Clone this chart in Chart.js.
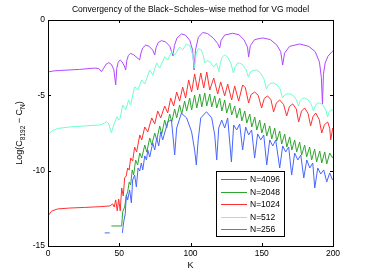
<!DOCTYPE html>
<html>
<head>
<meta charset="utf-8">
<script src="https://cdn.jsdelivr.net/npm/chart.js@4.4.0/dist/chart.umd.min.js"></script>
<style>
  html, body { margin:0; padding:0; background:#fff; }
</style>
</head>
<body>
<canvas id="chart" width="368" height="277"></canvas>
<script>
// --- donnees ---
const xTicks = [0, 50, 100, 150, 200];
const yTicks = [0, -5, -10, -15];
const legendLabels = ["N=4096", "N=2048", "N=1024", "N=512", "N=256"];

// N=256
const k256 = [0,4,8.2,22.2,32.8,35.6,37.5,39.1,40.8,42.6,44.5,46.2,47.5,48.3,49.3,50.6,52,53.6,54.5,55.3,56.4,58,60,62.5,64.3,65.2,66.5,68.6,71,73.5,74.9,75.8,77.3,79.6,82.5,85.5,87.7,88.7,90.5,93.6,96.5,99.5,101.5,102.5,103.5,105.5,108.6,112,116,119,120.5,121.5,124,129.6,134,137.5,140,140.8,142,145,150.7,156,160.5,163.3,164.7,166,169.5,176.6,183,187.5,190.5,191.8,192.6,193.3,194.5,196.5,199.1,200];
const v256 = [-3.45,-3.38,-3.35,-3.28,-3.19,-3.22,-3.43,-3.2,-2.93,-2.83,-2.95,-3.3,-4.31,-3.2,-2.8,-2.65,-2.78,-3.05,-3.32,-2.7,-2.35,-2.22,-2.3,-2.5,-2.65,-2.2,-1.85,-1.66,-1.75,-2.0,-2.32,-1.85,-1.5,-1.37,-1.45,-1.75,-2.39,-1.7,-1.2,-0.93,-1.0,-1.35,-2.0,-3.32,-2.0,-1.15,-0.83,-0.9,-1.2,-1.55,-1.86,-1.35,-1.0,-0.88,-0.98,-1.3,-1.8,-2.46,-1.7,-1.3,-1.19,-1.3,-1.65,-2.1,-2.99,-2.2,-1.75,-1.59,-1.75,-2.1,-2.8,-3.8,-5.57,-3.6,-2.85,-2.4,-2.12,-2.05];

// N=512
const k512 = [0,2.6,6.8,15.2,25.8,36.3,39.8,41.2,42.6,44.5,46.1,48.4,49.6,50.7,52.4,54.5,56.6,58.0,60.8,63.0,65.8,67.9,71.4,73.5,76.3,78.4,81.9,84.0,86.8,88.9,92.4,94.5,97,99.4,101.5,102.9,104,105.5,107.2,108.8,110.0,111.5,113.5,116.3,118.2,120.0,121,122.4,124.0,126,128.3,130.1,131.3,132.7,134.5,136.8,139,140.6,142,144,146.3,149,151.5,153.3,154.8,156.4,158.4,160.8,163,164.5,166,167.8,169.6,172,174.3,175.7,177,178.5,180.1,182.5,184.8,186.3,187.5,189,190.7,193,195,196.2,197.3,198.5,200];
const v512 = [-7.63,-7.37,-7.2,-7.1,-7.03,-6.97,-6.84,-6.75,-6.9,-7.48,-6.97,-6.42,-6.64,-6.5,-5.64,-5.97,-5.31,-5.64,-4.43,-4.65,-3.98,-4.25,-3.32,-3.65,-2.85,-3.19,-2.44,-2.65,-2.1,-2.32,-1.79,-1.99,-1.6,-1.7,-2.3,-3.19,-2.2,-1.9,-1.95,-2.3,-2.85,-2.7,-2.76,-3.12,-2.87,-3.43,-2.8,-2.45,-2.32,-2.45,-2.85,-3.52,-3.1,-2.9,-2.85,-3.0,-3.3,-3.78,-3.45,-3.35,-3.32,-3.5,-3.9,-4.58,-4.3,-4.2,-4.18,-4.3,-4.6,-5.18,-4.98,-4.9,-4.91,-5.0,-5.3,-5.71,-5.35,-5.2,-5.18,-5.3,-5.6,-6.04,-5.7,-5.52,-5.51,-5.65,-6.0,-6.44,-6.1,-5.97,-5.97];

// N=1024
const k1024 = [0,2.6,6.8,15.2,25.8,36.3,43.3,45.4,46.5,47.5,48.6,49.6,50.7,51.7,52.8,53.8,54.9,55.9,57.0,58.0,59.4,60.8,62.2,64.4,65.8,67.9,70.0,72.8,74.9,77.0,79.1,81.9,84.0,86.1,88.2,90.3,92.4,94.5,96.6,98.7,100.8,102.9,105.0,107.2,109.3,111.4,113.5,116.3,119.1,121.2,124.0,126.1,128.9,131.0,133.8,136.6,138.5,140.8,142.5,145.0,147.5,149.9,151.8,154.1,156.5,158.3,160.3,162.6,165.3,167.5,169.4,171.7,174.2,175.9,177.9,180.1,182.5,184.3,186,187.9,190.3,192.1,194,196.3,197.7,198.4,199.8];
const v1024 = [-13.0,-12.68,-12.54,-12.48,-12.44,-12.39,-12.34,-12.21,-12.41,-11.94,-12.67,-11.88,-12.67,-11.15,-11.68,-10.48,-10.35,-9.82,-9.96,-9.16,-9.36,-8.43,-8.76,-7.63,-7.96,-7.1,-7.43,-6.5,-6.9,-6.04,-6.5,-5.71,-6.17,-5.18,-5.71,-4.78,-5.38,-4.45,-5.18,-3.98,-4.78,-3.58,-4.65,-3.52,-4.51,-3.45,-4.65,-3.85,-4.91,-4.11,-5.04,-4.25,-5.31,-4.38,-5.38,-4.31,-4.5,-5.51,-4.95,-4.78,-5.0,-5.84,-5.2,-5.04,-5.3,-6.1,-5.5,-5.31,-5.6,-6.37,-5.75,-5.57,-5.9,-6.77,-6.05,-5.84,-6.2,-7.03,-6.4,-6.17,-6.6,-7.5,-6.95,-6.77,-7.2,-7.96,-7.17];

// N=2048
const k2048 = [44.5,51.7,52.4,53.8,54.9,55.9,57.0,58.0,59.1,60.1,61.5,62.9,64.4,65.8,67.9,69.3,71.4,72.8,74.9,76.3,78.4,79.8,81.9,83.3,85.4,86.8,88.9,90.3,92.4,93.8,95.9,97.3,99.4,100.8,102.9,104.4,106.5,107.9,110.0,111.4,113.5,114.9,117.0,118.4,120.5,122.0,124.0,125.4,127.6,128.9,131.0,132.5,134.6,136.0,138.1,139.5,141.6,143.0,145.1,146.5,148.6,150.0,152.1,153.5,155.6,157.0,159.1,160.5,162.6,164.0,166.1,167.6,169.6,171.1,173.1,174.5,176.6,178.0,180.1,181.5,183.6,185.0,187.1,188.5,190.7,192.1,194.2,195.6,197.7,199.8];
const v2048 = [-13.67,-13.67,-12.74,-12.41,-11.68,-11.41,-10.75,-10.95,-9.95,-10.28,-9.29,-9.62,-8.83,-9.16,-8.3,-8.76,-7.83,-8.3,-7.5,-7.96,-7.03,-7.57,-6.64,-7.17,-6.24,-6.77,-5.91,-6.5,-5.64,-6.24,-5.38,-6.04,-5.18,-5.97,-4.98,-5.84,-4.91,-5.77,-4.84,-5.71,-4.91,-5.77,-5.04,-5.84,-5.18,-6.04,-5.31,-6.17,-5.51,-6.3,-5.71,-6.5,-5.84,-6.7,-6.04,-6.84,-6.24,-7.1,-6.44,-7.3,-6.64,-7.5,-6.84,-7.7,-7.03,-7.9,-7.17,-8.03,-7.37,-8.23,-7.57,-8.43,-7.76,-8.63,-7.96,-8.76,-8.1,-8.96,-8.3,-9.09,-8.43,-9.29,-8.56,-9.42,-8.69,-9.49,-8.76,-9.56,-8.83,-9.16];

// N=4096 (petit trait isole au debut)
const k4096 = [39.8,43.3,48.0,52.2,53.1,54.2,55.0,55.9,57.3,58.5,59.4,60.8,62.0,63.2,64.4,65.5,66.5,67.9,69.1,70.0,71.4,73.5,74.9,76.3,77.7,79.1,80.5,83.1,84.0,86.6,87.5,88.9,90.3,93.6,97.3,100.8,102.9,104.1,105.4,107.2,111.2,114.9,117.0,118.4,119.8,121.9,124.0,126.1,128.7,130.3,132.4,134.5,136.6,138.7,140.8,142.9,145.0,147.1,149.3,151.4,153.5,155.6,157.7,159.8,162.6,164.7,166.8,168.9,171.0,173.1,175.3,177.4,179.5,181.6,183.7,185.8,187.2,189.3,191.4,193.5,195.6,197.7,199.7];
const v4096 = [-14.13,-14.13,null,-14.13,-13.41,-12.87,-11.61,-11.94,-11.28,-12.14,-10.62,-10.29,-11.08,-9.82,-10.02,-9.49,-9.95,-9.02,-9.29,-8.63,-9.09,-8.16,-8.63,-7.83,-8.36,-7.43,-7.96,-7.08,-6.75,-6.64,-7.5,-8.96,-7.17,-6.19,-6.5,-7.43,-8.63,-9.62,-7.96,-6.5,-6.09,-6.5,-7.63,-9.29,-7.17,-6.64,-7.17,-6.5,-9.42,-6.97,-7.3,-6.9,-8.63,-7.1,-7.63,-7.3,-9.16,-7.56,-7.96,-7.63,-9.62,-7.96,-8.36,-7.96,-9.82,-8.36,-8.76,-8.43,-10.29,-8.83,-9.29,-8.96,-10.48,-9.29,-9.82,-9.49,-11.15,-9.82,-10.22,-9.95,-10.75,-10.15,-10.62];

const colors = ["#4866ff", "#2fa52f", "#ff3030", "#70ffcc", "#b048ff"];

function pts(ks, vs){
    return ks.map((k,i)=>({x:k, y:vs[i]}));
}

const series = [[k4096,v4096],[k2048,v2048],[k1024,v1024],[k512,v512],[k256,v256]];
const datasets = series.map((s,i)=>({
    label: legendLabels[i],
    data: pts(s[0], s[1]),
    borderColor: colors[i],
    borderWidth: 1,
    pointRadius: 0,
    showLine: true,
    spanGaps: false,
    tension: 0
}));

// dessin: cadre, graduations, titre, labels, legende
const decor = {
    id: "decor",
    afterDraw(chart){
        const ctx = chart.ctx, a = chart.chartArea;
        const sx = chart.scales.x, sy = chart.scales.y;
        ctx.save();
        ctx.strokeStyle = "#000";
        ctx.lineWidth = 1;
        ctx.strokeRect(Math.round(a.left)+0.5, Math.round(a.top)+0.5, Math.round(a.right-a.left), Math.round(a.bottom-a.top));
        ctx.beginPath();
        xTicks.forEach(v=>{
            const px = Math.round(sx.getPixelForValue(v))+0.5;
            ctx.moveTo(px, a.bottom); ctx.lineTo(px, a.bottom-3);
            ctx.moveTo(px, a.top); ctx.lineTo(px, a.top+3);
        });
        yTicks.forEach(v=>{
            const py = Math.round(sy.getPixelForValue(v))+0.5;
            ctx.moveTo(a.left, py); ctx.lineTo(a.left+3, py);
            ctx.moveTo(a.right, py); ctx.lineTo(a.right-3, py);
        });
        ctx.stroke();

        ctx.fillStyle = "#000";
        ctx.textAlign = "center";
        ctx.textBaseline = "middle";
        ctx.font = "8.5px 'Liberation Sans', Arial, sans-serif";
        ctx.fillText("Convergency of the Black\u2212Scholes\u2212wise method for VG model", (a.left+a.right)/2, 10);
        ctx.font = "9px 'Liberation Sans', Arial, sans-serif";
        ctx.fillText("K", (a.left+a.right)/2, 266);

        // label y avec indices
        ctx.translate(20, (a.top+a.bottom)/2);
        ctx.rotate(-Math.PI/2);
        const big = "9px 'Liberation Sans', Arial, sans-serif";
        const small = "6.5px 'Liberation Sans', Arial, sans-serif";
        const parts = [["Log(C",big,0],["8192",small,3],[" \u2212 C",big,0],["N",small,3],[")",big,0]];
        let w = 0;
        parts.forEach(p=>{ ctx.font = p[1]; w += ctx.measureText(p[0]).width; });
        let x0 = -w/2;
        ctx.textAlign = "left";
        parts.forEach(p=>{ ctx.font = p[1]; ctx.fillText(p[0], x0, p[2]); x0 += ctx.measureText(p[0]).width; });
        ctx.setTransform(1,0,0,1,0,0);

        // legende
        const lx = 216, ly = 171, lw = 68, lh = 65;
        ctx.fillStyle = "#fff";
        ctx.fillRect(lx, ly, lw, lh);
        ctx.strokeStyle = "#000";
        ctx.strokeRect(lx+0.5, ly+0.5, lw, lh);
        ctx.font = "8.5px 'Liberation Sans', Arial, sans-serif";
        ctx.textAlign = "left";
        chart.data.datasets.forEach((d,i)=>{
            const y = Math.round(ly + 8 + i*12.5)+0.5;
            ctx.strokeStyle = d.borderColor;
            ctx.beginPath(); ctx.moveTo(lx+5, y); ctx.lineTo(lx+31, y); ctx.stroke();
            ctx.fillStyle = "#000";
            ctx.fillText(d.label, lx+34, y);
        });
        ctx.restore();
    }
};

new Chart(document.getElementById("chart").getContext("2d"), {
    type: "scatter",
    data: { datasets },
    options: {
        responsive: false,
        animation: false,
        devicePixelRatio: 1,
        layout: { padding: { top: 20, right: 35, left: 0, bottom: 0 } },
        plugins: { legend: { display: false }, tooltip: { enabled: false }, title: { display: false } },
        scales: {
            x: {
                type: "linear", min: 0, max: 200,
                afterFit(s){ s.height = 31; },
                afterBuildTicks(s){ s.ticks = xTicks.map(v=>({value:v})); },
                grid: { display: false, drawTicks: false, tickLength: 0 }, border: { display: false },
                ticks: { color: "#000", padding: 3, maxRotation: 0, font: { size: 8.5, family: "'Liberation Sans', Arial, sans-serif" } }
            },
            y: {
                type: "linear", min: -15, max: 0,
                afterFit(s){ s.width = 48; },
                afterBuildTicks(s){ s.ticks = yTicks.map(v=>({value:v})); },
                grid: { display: false, drawTicks: false, tickLength: 0 }, border: { display: false },
                ticks: { color: "#000", padding: 3, font: { size: 8.5, family: "'Liberation Sans', Arial, sans-serif" },
                         callback: v => String(v) }
            }
        }
    },
    plugins: [decor]
});
</script>
</body>
</html>
